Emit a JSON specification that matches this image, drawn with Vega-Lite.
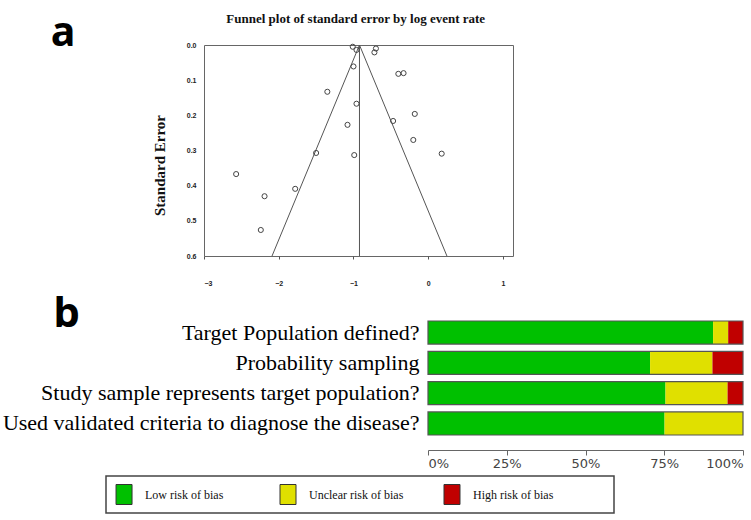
{
  "$schema": "https://vega.github.io/schema/vega-lite/v6.json",
  "padding": {"left": 1, "top": 12, "right": 4, "bottom": 4},
  "spacing": 5,
  "background": "white",
  "config": {"view": {"stroke": null}, "axisY": {"labelOverlap": false}, "axisX": {"labelOverlap": false}},
  "datasets": {
    "studies": [
      {"lograte": -1.35, "se": 0.133}, {"lograte": -1.50, "se": 0.307}, {"lograte": -2.57, "se": 0.367},
      {"lograte": -2.19, "se": 0.430}, {"lograte": -1.78, "se": 0.409}, {"lograte": -2.24, "se": 0.526},
      {"lograte": -1.01, "se": 0.005}, {"lograte": -0.96, "se": 0.014}, {"lograte": -0.70, "se": 0.010},
      {"lograte": -0.72, "se": 0.021}, {"lograte": -1.00, "se": 0.061}, {"lograte": -0.40, "se": 0.082},
      {"lograte": -0.33, "se": 0.080}, {"lograte": -0.96, "se": 0.167}, {"lograte": -0.18, "se": 0.196},
      {"lograte": -1.08, "se": 0.227}, {"lograte": -0.47, "se": 0.216}, {"lograte": -0.20, "se": 0.270},
      {"lograte": -0.99, "se": 0.313}, {"lograte": 0.18, "se": 0.309}
    ],
    "funnel": [
      {"side": "left", "lograte": -0.92, "se": 0.0}, {"side": "left", "lograte": -2.09, "se": 0.6},
      {"side": "right", "lograte": -0.92, "se": 0.0}, {"side": "right", "lograte": 0.25, "se": 0.6}
    ],
    "rob": [
      {"question": "Target Population defined?", "risk": "Low risk of bias", "rank": 1, "pct": 90.5},
      {"question": "Target Population defined?", "risk": "Unclear risk of bias", "rank": 2, "pct": 4.8},
      {"question": "Target Population defined?", "risk": "High risk of bias", "rank": 3, "pct": 4.7},
      {"question": "Probability sampling", "risk": "Low risk of bias", "rank": 1, "pct": 70.5},
      {"question": "Probability sampling", "risk": "Unclear risk of bias", "rank": 2, "pct": 19.8},
      {"question": "Probability sampling", "risk": "High risk of bias", "rank": 3, "pct": 9.7},
      {"question": "Study sample represents target population?", "risk": "Low risk of bias", "rank": 1, "pct": 75.4},
      {"question": "Study sample represents target population?", "risk": "Unclear risk of bias", "rank": 2, "pct": 19.7},
      {"question": "Study sample represents target population?", "risk": "High risk of bias", "rank": 3, "pct": 4.9},
      {"question": "Used validated criteria to diagnose the disease?", "risk": "Low risk of bias", "rank": 1, "pct": 75.1},
      {"question": "Used validated criteria to diagnose the disease?", "risk": "Unclear risk of bias", "rank": 2, "pct": 24.9},
      {"question": "Used validated criteria to diagnose the disease?", "risk": "High risk of bias", "rank": 3, "pct": 0}
    ],
    "legend": [
      {"risk": "Low risk of bias"}, {"risk": "Unclear risk of bias"}, {"risk": "High risk of bias"}
    ]
  },
  "vconcat": [
    {
      "spacing": 0,
      "hconcat": [
        {"width": 49, "height": 1, "data": {"values": []}, "mark": "point", "encoding": {}},
        {
          "width": 309,
          "height": 211,
          "view": {"stroke": "#666", "strokeWidth": 1},
          "layer": [
            {
              "data": {"name": "funnel"},
              "mark": {"type": "line", "color": "#555", "strokeWidth": 1},
              "encoding": {
                "x": {"field": "lograte", "type": "quantitative",
                  "scale": {"domain": [-3, 1.134], "nice": false, "zero": false},
                  "axis": {"values": [-3, -2, -1, 0, 1], "format": "d", "title": null, "grid": false, "domain": false, "labelOverlap": false,
                    "labelFont": "Liberation Sans", "labelFontSize": 7, "labelFontWeight": "bold", "labelColor": "#222",
                    "tickSize": 3, "tickColor": "#555", "labelPadding": 20}},
                "y": {"field": "se", "type": "quantitative",
                  "scale": {"domain": [0, 0.6], "reverse": true, "nice": false, "zero": false},
                  "axis": {"values": [0, 0.1, 0.2, 0.3, 0.4, 0.5, 0.6], "tickCount": 7, "format": ".1f", "grid": false, "domain": false, "ticks": false,
                    "labelOverlap": false, "labelBound": false, "labelSeparation": 0,
                    "labelFont": "Liberation Sans", "labelFontSize": 7, "labelFontWeight": "bold", "labelColor": "#222", "labelPadding": 8,
                    "title": "Standard Error", "titleFont": "Liberation Serif", "titleFontSize": 15, "titleFontWeight": "bold", "titleColor": "#111",
                    "titleX": -37, "titleY": 120}},
                "detail": {"field": "side", "type": "nominal"}
              }
            },
            {
              "data": {"values": [{}]},
              "mark": {"type": "rule", "color": "#555", "strokeWidth": 1},
              "encoding": {"x": {"datum": -0.92, "type": "quantitative"}, "y": {"datum": 0, "type": "quantitative"}, "y2": {"datum": 0.6}}
            },
            {
              "data": {"name": "studies"},
              "mark": {"type": "point", "shape": "circle", "filled": false, "size": 26, "color": "#444", "strokeWidth": 1, "opacity": 1},
              "encoding": {"x": {"field": "lograte", "type": "quantitative"}, "y": {"field": "se", "type": "quantitative"}}
            },
            {
              "data": {"values": [{}]},
              "mark": {"type": "text", "text": "Funnel plot of standard error by log event rate", "font": "Liberation Serif", "fontSize": 13, "fontWeight": "bold", "color": "#111", "align": "center", "baseline": "alphabetic"},
              "encoding": {"x": {"datum": -0.97, "type": "quantitative"}, "y": {"datum": -0.0626, "type": "quantitative"}}
            },
            {
              "data": {"values": [{}]},
              "mark": {"type": "text", "text": "a", "font": "Open Sans", "fontSize": 41, "fontWeight": "bold", "color": "#000", "align": "left", "baseline": "alphabetic"},
              "encoding": {"x": {"datum": -5.05, "type": "quantitative"}, "y": {"datum": 0.003, "type": "quantitative"}}
            }
          ]
        }
      ]
    },
    {
      "spacing": 0,
      "hconcat": [
        {"width": 1, "height": 1, "data": {"values": []}, "mark": "point", "encoding": {}},
        {
          "width": 315,
          "height": 144,
          "data": {"name": "rob"},
          "layer": [
            {
              "mark": {"type": "bar"},
              "encoding": {
                "y": {"field": "question", "type": "nominal", "sort": null,
                  "scale": {"paddingInner": 0.24, "paddingOuter": 0.495},
                  "axis": {"title": null, "ticks": false, "domain": false, "labelFont": "Liberation Serif", "labelFontSize": 22,
                    "labelColor": "#000", "labelPadding": 9, "labelLimit": 700}},
                "x": {"field": "pct", "type": "quantitative", "stack": "zero",
                  "scale": {"domain": [0, 100], "nice": false},
                  "axis": {"values": [0, 25, 50, 75, 100], "labelExpr": "datum.value + '%'", "labelFlush": true, "title": null, "grid": false,
                    "labelFont": "DejaVu Sans", "labelFontSize": 13, "labelColor": "#444", "domainColor": "#666", "tickColor": "#666",
                    "tickSize": 5, "labelPadding": 2,
                    "encode": {"ticks": {"update": {"y": {"value": -5}}}}}},
                "color": {"field": "risk", "type": "nominal",
                  "scale": {"domain": ["Low risk of bias", "Unclear risk of bias", "High risk of bias"], "range": ["#00C000", "#E0E000", "#C00000"]},
                  "legend": null},
                "order": {"field": "rank", "type": "quantitative"}
              }
            },
            {
              "transform": [{"filter": "datum.rank == 1"}],
              "mark": {"type": "rect", "fill": "transparent", "stroke": "#555", "strokeWidth": 1.2},
              "encoding": {
                "y": {"field": "question", "type": "nominal", "sort": null},
                "x": {"datum": 0, "type": "quantitative"},
                "x2": {"datum": 100}
              }
            },
            {
              "transform": [{"filter": "datum.rank == 1 && datum.question == 'Target Population defined?'"}],
              "mark": {"type": "text", "text": "b", "font": "Open Sans", "fontSize": 42, "fontWeight": "bold", "color": "#000", "align": "left", "baseline": "alphabetic", "dy": -6},
              "encoding": {
                "y": {"field": "question", "type": "nominal", "sort": null},
                "x": {"datum": -119, "type": "quantitative"}
              }
            }
          ]
        }
      ]
    },
    {
      "spacing": 0,
      "hconcat": [
        {"width": 104, "height": 1, "data": {"values": []}, "mark": "point", "encoding": {}},
        {
          "width": 508,
          "height": 37,
          "view": {"stroke": "#444", "strokeWidth": 1.5},
          "data": {"name": "legend"},
          "layer": [
            {
              "mark": {"type": "point", "shape": "M-0.8,-1H0.8V1H-0.8Z", "size": 400, "filled": true, "stroke": "#333", "strokeWidth": 1, "opacity": 1},
              "encoding": {
                "x": {"field": "risk", "type": "nominal", "sort": null, "bandPosition": 0.061,
                  "scale": {"type": "band", "paddingInner": 0, "paddingOuter": 0.049}, "axis": null},
                "color": {"field": "risk", "type": "nominal", "legend": null,
                  "scale": {"domain": ["Low risk of bias", "Unclear risk of bias", "High risk of bias"], "range": ["#00C000", "#E0E000", "#C00000"]}}
              }
            },
            {
              "mark": {"type": "text", "align": "left", "baseline": "middle", "font": "Liberation Serif", "fontSize": 12, "color": "#111"},
              "encoding": {
                "x": {"field": "risk", "type": "nominal", "sort": null, "bandPosition": 0.189},
                "text": {"field": "risk"}
              }
            }
          ]
        }
      ]
    }
  ]
}
